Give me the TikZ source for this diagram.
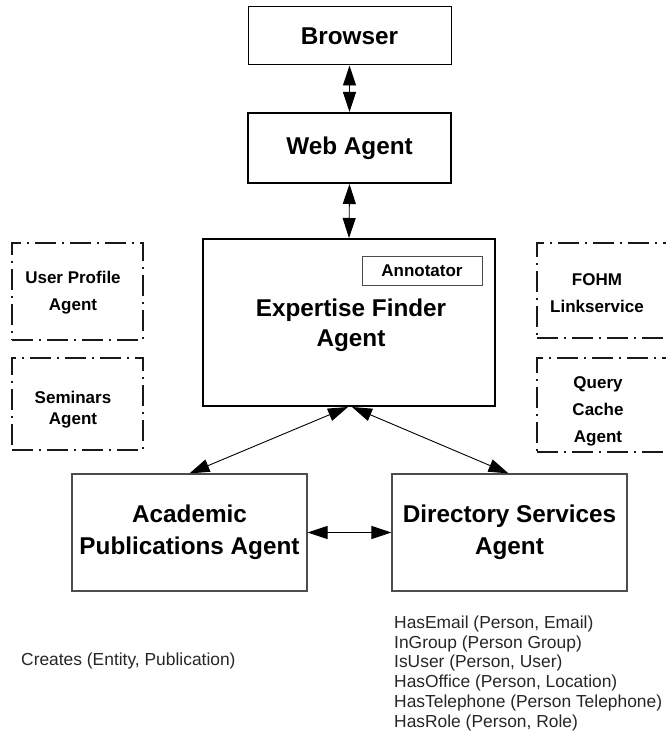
\documentclass[tikz,border=0pt]{standalone}
\usepackage{fontspec}
\setmainfont{Liberation Sans}
\usetikzlibrary{arrows.meta}

\begin{document}
\begin{tikzpicture}[x=1pt,y=-1pt,
  agentbox/.style={draw, rectangle, inner sep=0pt, align=center,
    font=\bfseries\fontsize{24.3}{30}\selectfont},
  thinbox/.style={agentbox, line width=1pt},
  thickbox/.style={agentbox, line width=2pt},
  lowbox/.style={agentbox, line width=1.2pt, draw=black!70,
    font=\bfseries\fontsize{24.3}{32}\selectfont},
  subbox/.style={draw=black!70, rectangle, line width=0.9pt, inner sep=0pt,
    font=\bfseries\fontsize{17}{20}\selectfont},
  dashbox/.style={draw=black!90, rectangle, inner sep=0pt, line width=1.8pt,
    dash pattern=on 21pt off 6pt on 2pt off 6pt},
  dashtext/.style={align=center, inner sep=0pt,
    font=\bfseries\fontsize{17}{27}\selectfont},
  biarr/.style={arrows={Triangle[length=20pt,width=13pt]-Triangle[length=20pt,width=13pt]},
    line width=0.9pt, draw=black},
  plain/.style={inner sep=0pt, align=left, font=\fontsize{17.4}{19.8}\selectfont, text=black!85}
]
\useasboundingbox (0,0) rectangle (665,754);

% main agents
\node[thinbox, minimum width=203pt, minimum height=58pt] (br) at (349.5,36) {Browser};
\node[thickbox, minimum width=203pt, minimum height=70pt] (wa) at (349.5,148) {Web Agent};
\node[thickbox, minimum width=292pt, minimum height=167pt] (ef) at (349,322.5) {};
\node[align=center, inner sep=0pt, font=\bfseries\fontsize{24.3}{30}\selectfont]
  (eftext) at (351,325) {Expertise Finder\\Agent};
\node[subbox, minimum width=120pt, minimum height=29pt] (ann) at (422,270.5) {Annotator};
\node[lowbox, minimum width=235pt, minimum height=117pt] (ap) at (189.5,532.5) {Academic\\Publications Agent};
\node[lowbox, minimum width=235pt, minimum height=117pt] (ds) at (509.5,532.5) {Directory Services\\Agent};

% auxiliary agents (dash-dotted)
\node[dashbox, minimum width=131pt, minimum height=97pt] (up) at (77.5,291.5) {};
\node[dashtext] (uptext) at (73,293) {User Profile\\Agent};
\node[dashbox, minimum width=131pt, minimum height=92pt] (sem) at (77.5,404) {};
\node[dashtext, font=\bfseries\fontsize{17}{21}\selectfont] (semtext) at (73,410) {Seminars\\Agent};
\node[dashbox, minimum width=131pt, minimum height=95pt] (fohm) at (602.5,290.5) {};
\node[dashtext] (fohmtext) at (597,293) {FOHM\\Linkservice};
\node[dashbox, minimum width=131pt, minimum height=94pt] (qc) at (602.5,405) {};
\node[dashtext] (qctext) at (598,411) {Query\\Cache\\Agent};

% connectors
\draw[biarr] (br.south) -- (wa.north);
\draw[biarr] (wa.south) -- (ef.north);
\draw[biarr] ([xshift=-1pt]ef.south) -- (ap.north);
\draw[biarr] ([xshift=3pt]ef.south) -- ([xshift=-1pt]ds.north);
\draw[biarr] (ap.east) -- (ds.west);

% relations
\node[plain, anchor=base west] (creates) at (21,665) {Creates (Entity, Publication)};
\node[plain, anchor=north west] (rels) at (394,615.5) {HasEmail (Person, Email)\\
  InGroup (Person Group)\\
  IsUser (Person, User)\\
  HasOffice (Person, Location)\\
  HasTelephone (Person Telephone)\\
  HasRole (Person, Role)};
\end{tikzpicture}
\end{document}
